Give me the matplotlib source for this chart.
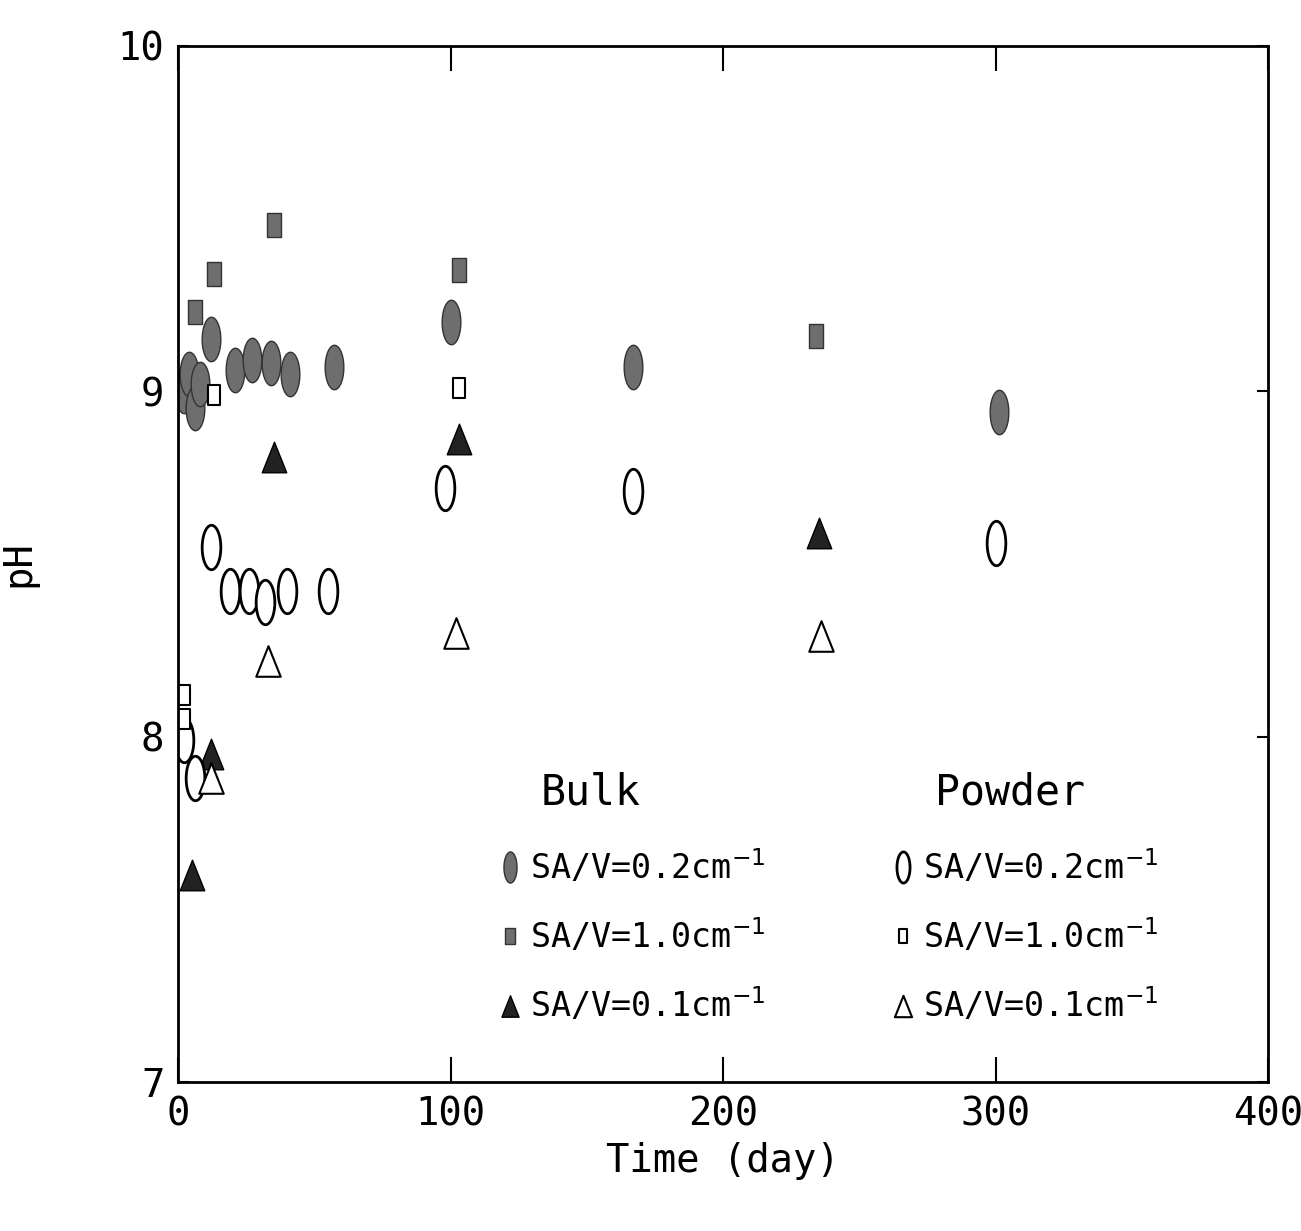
import numpy as np
import matplotlib.pyplot as plt
from matplotlib.path import Path

# bulk samples
bulk_02_day = [2, 4, 6, 8, 12, 21, 27, 34, 41, 57, 100, 167, 301]
bulk_02_ph = [9.00, 9.05, 8.95, 9.02, 9.15, 9.06, 9.09, 9.08, 9.05, 9.07, 9.20, 9.07, 8.94]
bulk_10_day = [6, 13, 35, 103, 234]
bulk_10_ph = [9.23, 9.34, 9.48, 9.35, 9.16]
bulk_01_day = [5, 12, 35, 103, 235]
bulk_01_ph = [7.60, 7.95, 8.81, 8.86, 8.59]

# powder samples
pow_02_day = [2, 6, 12, 19, 26, 32, 40, 55, 98, 167, 300]
pow_02_ph = [7.99, 7.88, 8.55, 8.42, 8.42, 8.39, 8.42, 8.42, 8.72, 8.71, 8.56]
pow_10_day = [2, 2, 13, 103]
pow_10_ph = [8.12, 8.05, 8.99, 9.01]
pow_01_day = [12, 33, 102, 236]
pow_01_ph = [7.88, 8.22, 8.30, 8.29]

xticks = [0, 100, 200, 300, 400]
yticks = [7, 8, 9, 10]

# tall oval and tall box markers, like the plotter symbols
t = np.linspace(0, 2 * np.pi, 60)
oval = Path(np.column_stack([0.42 * np.cos(t), np.sin(t)]), closed=True)
box = Path([(-0.6, -1), (0.6, -1), (0.6, 1), (-0.6, 1), (-0.6, -1)], closed=True)
tri = Path([(-0.8, -1), (0.8, -1), (0, 1), (-0.8, -1)], closed=True)

plt.rcParams['font.family'] = ['DejaVu Sans Mono', 'DejaVu Sans']

fig = plt.figure(figsize=(13.01, 12.31), dpi=100)
ax = fig.add_axes([0.137, 0.121, 0.838, 0.842])

grey = '#6e6e6e'
b1, = ax.plot(bulk_02_day, bulk_02_ph, ls='none', marker=oval, ms=32, mfc=grey, mec='#333333', mew=1)
b2, = ax.plot(bulk_10_day, bulk_10_ph, ls='none', marker=box, ms=17, mfc=grey, mec='#333333', mew=1)
b3, = ax.plot(bulk_01_day, bulk_01_ph, ls='none', marker=tri, ms=22, mfc='#222222', mec='black', mew=1)
p1, = ax.plot(pow_02_day, pow_02_ph, ls='none', marker=oval, ms=32, mfc='white', mec='black', mew=2)
p2, = ax.plot(pow_10_day, pow_10_ph, ls='none', marker=box, ms=15, mfc='white', mec='black', mew=1.5)
p3, = ax.plot(pow_01_day, pow_01_ph, ls='none', marker=tri, ms=22, mfc='white', mec='black', mew=1.5)

ax.set_xlim(0, 400)
ax.set_ylim(7, 10)
ax.set_xticks(xticks)
ax.set_yticks(yticks)
ax.tick_params(direction='in', top=True, right=True, length=18, width=1.5, labelsize=28, pad=10)
ax.tick_params(axis='y', length=8)
for s in ax.spines.values():
    s.set_linewidth(2)

ax.set_xlabel('Time (day)', fontsize=28, labelpad=6)
ax.set_ylabel('pH', fontsize=28, labelpad=58)

labels = ['SA/V=0.2cm$^{-1}$', 'SA/V=1.0cm$^{-1}$', 'SA/V=0.1cm$^{-1}$']
leg1 = ax.legend([b1, b2, b3], labels, loc='upper left',
                 bbox_to_anchor=(0.268, 0.255), frameon=False, fontsize=24,
                 handlelength=0.6, handletextpad=0.3,
                 labelspacing=0.95, markerscale=0.7)
ax.add_artist(leg1)
ax.legend([p1, p2, p3], labels, loc='upper left',
          bbox_to_anchor=(0.628, 0.255), frameon=False, fontsize=24,
          handlelength=0.6, handletextpad=0.3,
          labelspacing=0.95, markerscale=0.7)
ax.text(0.332, 0.279, 'Bulk', transform=ax.transAxes, fontsize=30, va='center')
ax.text(0.694, 0.279, 'Powder', transform=ax.transAxes, fontsize=30, va='center')

fig.savefig('out.png', dpi=100)
